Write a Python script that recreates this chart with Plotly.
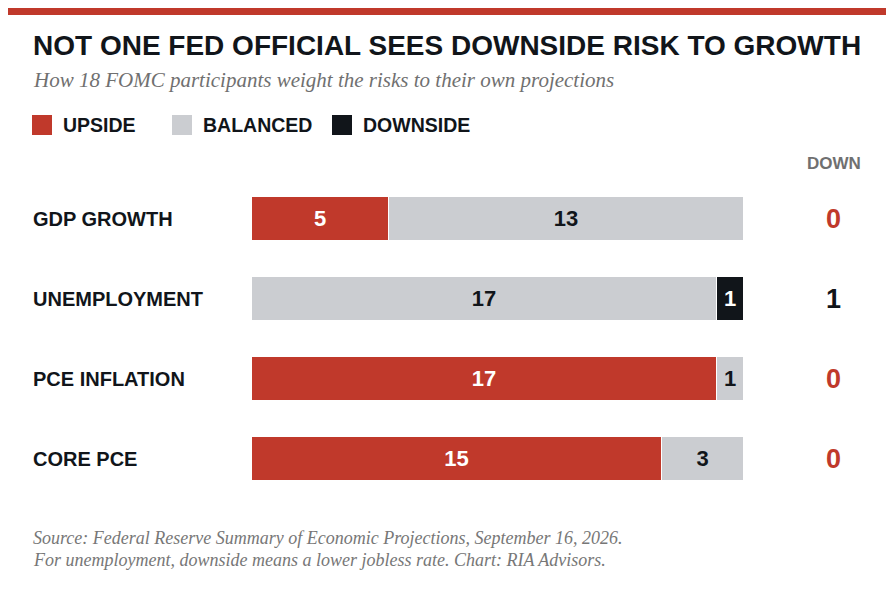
import plotly.graph_objects as go

categories = ["GDP GROWTH", "UNEMPLOYMENT", "PCE INFLATION", "CORE PCE"]
upside = [5, 0, 17, 15]
balanced = [13, 17, 1, 3]
downside = [0, 1, 0, 0]

RED = "#C0392B"
GRAY = "#CBCDD1"
BLACK = "#11151A"
FONT = "Liberation Sans, Arial, sans-serif"
SERIF = "Liberation Serif, Georgia, serif"

W, H = 894, 589
OFF = 8  # page offset of the figure inside the browser window
L, R, T, B = 252 - OFF, 744 - OFF, 179 - OFF, 499 - OFF


def px(x):
    return (x - OFF - L) / (R - L)


def py(y):
    return (B - (y - OFF)) / (B - T)


fig = go.Figure()
for name, vals, col, tcol in [("UPSIDE", upside, RED, "white"),
                               ("BALANCED", balanced, GRAY, BLACK),
                               ("DOWNSIDE", downside, BLACK, "white")]:
    fig.add_trace(go.Bar(
        y=categories, x=vals, orientation="h", name=name,
        marker=dict(color=col, line=dict(color="white", width=1)),
        text=["<b>%d</b>" % v if v else "" for v in vals], textposition="inside",
        insidetextanchor="middle", textangle=0,
        textfont=dict(family=FONT, size=22, color=tcol), width=0.55,
        showlegend=False, hoverinfo="skip"))

fig.update_layout(
    width=W, height=H, barmode="stack", bargap=0,
    plot_bgcolor="white", paper_bgcolor="white",
    margin=dict(l=L, r=W - R, t=T, b=H - B),
    uniformtext=dict(minsize=8, mode="show"),
    xaxis=dict(range=[0, 18], visible=False),
    yaxis=dict(range=[3.5, -0.5], visible=False, categoryorder="array",
               categoryarray=categories),
)

ann = []
shapes = [dict(type="rect", xref="paper", yref="paper", x0=px(0), x1=px(W + 20),
               y0=py(15), y1=py(8), fillcolor=RED, line=dict(width=0))]

ann.append(dict(x=px(31), y=py(45), text="<b>NOT ONE FED OFFICIAL SEES DOWNSIDE RISK TO GROWTH</b>",
                font=dict(family=FONT, size=28, color=BLACK)))
ann.append(dict(x=px(31), y=py(80), text="<i>How 18 FOMC participants weight the risks to their own projections</i>",
                font=dict(family=SERIF, size=21, color="#707070")))

for x0, col, lab in [(32, RED, "UPSIDE"), (172, GRAY, "BALANCED"), (332, BLACK, "DOWNSIDE")]:
    shapes.append(dict(type="rect", xref="paper", yref="paper", x0=px(x0), x1=px(x0 + 20),
                       y0=py(135), y1=py(115), fillcolor=col, line=dict(width=0)))
    ann.append(dict(x=px(x0 + 29), y=py(125), text="<b>%s</b>" % lab,
                    font=dict(family=FONT, size=19.5, color=BLACK)))

ann.append(dict(x=px(834), y=py(163), text="<b>DOWN</b>", xanchor="center",
                font=dict(family=FONT, size=17, color="#707070")))
for i, c in enumerate(categories):
    yy = 219 + 80 * i
    ann.append(dict(x=px(31), y=py(yy), text="<b>%s</b>" % c,
                    font=dict(family=FONT, size=20, color=BLACK)))
    ann.append(dict(x=px(833), y=py(yy), text="<b>%d</b>" % downside[i], xanchor="center",
                    font=dict(family=FONT, size=27, color=BLACK if downside[i] else RED)))

ann.append(dict(x=px(31), y=py(538), text="<i>Source: Federal Reserve Summary of Economic Projections, September 16, 2026.</i>",
                font=dict(family=SERIF, size=18, color="#777777")))
ann.append(dict(x=px(31), y=py(560), text="<i>For unemployment, downside means a lower jobless rate. Chart: RIA Advisors.</i>",
                font=dict(family=SERIF, size=18, color="#777777")))

for a in ann:
    a.setdefault("xanchor", "left")
    a.update(xref="paper", yref="paper", yanchor="middle", showarrow=False)

fig.update_layout(annotations=ann, shapes=shapes)
fig.write_html("out.html")
